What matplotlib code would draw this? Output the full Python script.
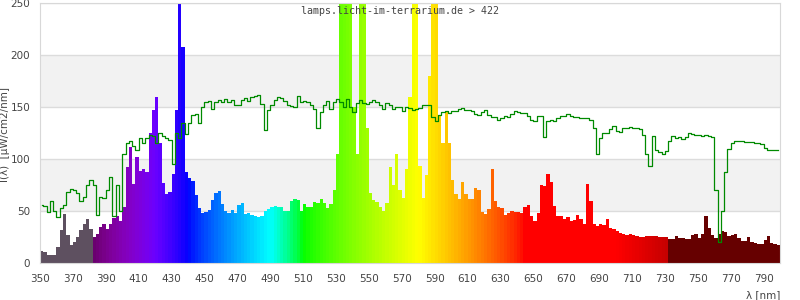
import numpy as np
import matplotlib
matplotlib.use('Agg')
import matplotlib.pyplot as plt

# wavelengths in nm, one value every 2 nm (bar covers [w, w+2))
wellenlaenge = np.arange(350, 800, 2)

# measured lamp spectrum, uW/cm2/nm
lampe = [
    12, 11, 8, 8, 8, 15, 32, 47, 27, 17,            # 350-368
    20, 25, 32, 38, 42, 33, 25, 28, 35, 38,         # 370-388
    33, 38, 43, 45, 40, 54, 92, 112, 76, 102,       # 390-408
    89, 90, 88, 125, 147, 160, 115, 77, 66, 68,     # 410-428
    86, 147, 260, 208, 88, 82, 79, 65, 53, 48,      # 430-448
    49, 51, 61, 67, 69, 57, 50, 48, 51, 48,         # 450-468
    56, 58, 47, 48, 46, 45, 44, 45, 50, 52,         # 470-488
    54, 55, 54, 54, 50, 50, 60, 62, 61, 50,         # 490-508
    57, 54, 54, 59, 58, 62, 58, 53, 57, 70,         # 510-528
    105, 260, 260, 260, 260, 150, 105, 260, 260, 130,  # 530-548
    67, 61, 59, 54, 50, 58, 92, 75, 105, 70,        # 550-568
    63, 90, 160, 260, 260, 93, 63, 85, 180, 260,    # 570-588
    260, 141, 115, 145, 115, 80, 66, 62, 78, 66,    # 590-608
    62, 62, 72, 70, 49, 47, 52, 90, 60, 54,         # 610-628
    53, 46, 48, 50, 49, 49, 48, 54, 56, 45,         # 630-648
    40, 48, 75, 74, 86, 78, 55, 45, 45, 42,         # 650-668
    44, 40, 41, 46, 42, 38, 76, 60, 38, 36,         # 670-688
    38, 37, 42, 34, 33, 31, 29, 28, 27, 28,         # 690-708
    27, 26, 25, 25, 26, 26, 26, 26, 25, 25,         # 710-728
    25, 23, 23, 26, 24, 24, 23, 23, 27, 28,         # 730-748
    24, 28, 45, 34, 27, 24, 28, 31, 30, 26,         # 750-768
    27, 28, 24, 21, 21, 25, 20, 19, 18, 18,         # 770-788
    22, 26, 19, 18, 17,                             # 790-798
]

# reference curve (green line)
referenz = [
    56, 55, 49, 60, 50, 44, 53, 56, 68, 71,
    70, 67, 60, 64, 75, 80, 75, 46, 64, 63,
    70, 83, 45, 75, 50, 105, 115, 117, 113, 109,
    120, 115, 120, 123, 122, 115, 125, 122, 120, 118,
    95, 125, 120, 135, 124, 135, 142, 143, 135, 150,
    155, 156, 148, 155, 157, 155, 158, 155, 157, 152,
    152, 157, 159, 156, 160, 161, 162, 153, 128, 147,
    152, 157, 160, 159, 156, 152, 151, 150, 161, 155,
    156, 155, 152, 148, 130, 145, 152, 156, 148, 155,
    158, 155, 150, 158, 150, 145, 154, 157, 154, 153,
    155, 157, 155, 152, 148, 154, 152, 148, 150, 150,
    146, 150, 149, 147, 148, 149, 152, 152, 152, 140,
    137, 142, 145, 146, 144, 146, 146, 148, 149, 147,
    147, 146, 143, 142, 145, 147, 142, 140, 140, 138,
    139, 141, 140, 143, 146, 145, 144, 144, 141, 138,
    137, 141, 141, 121, 137, 138, 137, 139, 141, 141,
    143, 141, 140, 140, 139, 139, 139, 138, 130, 105,
    120, 125, 125, 129, 132, 127, 126, 130, 130, 131,
    130, 130, 129, 123, 105, 93, 122, 109, 107, 105,
    108, 117, 122, 120, 121, 119, 121, 125, 124, 123,
    123, 122, 123, 122, 121, 70, 20, 50, 88, 110,
    115, 117, 117, 117, 116, 116, 116, 115, 115, 114,
    111, 109, 109, 109, 109,
]

achse_y = [0, 50, 100, 150, 200, 250]
achse_x = list(range(350, 800, 20))


def FarbeWellenlaenge(w):
    # rough wavelength -> rgb, like the site does it
    if w < 382:
        return '#5e5060'
    if w >= 733:
        return '#660000'
    if w < 440:
        r, g, b = -(w - 440) / 60.0, 0.0, 1.0
    elif w < 490:
        r, g, b = 0.0, (w - 440) / 50.0, 1.0
    elif w < 510:
        r, g, b = 0.0, 1.0, -(w - 510) / 20.0
    elif w < 580:
        r, g, b = (w - 510) / 70.0, 1.0, 0.0
    elif w < 645:
        r, g, b = 1.0, -(w - 645) / 65.0, 0.0
    else:
        r, g, b = 1.0, 0.0, 0.0

    f = 1.0
    if w < 420:
        f = 0.3 + 0.7 * (w - 380) / 40.0
    elif w > 700:
        f = 0.3 + 0.7 * (780 - w) / 80.0

    return tuple((c * f) ** 0.8 if c > 0 else 0.0 for c in (r, g, b))


fig = plt.figure(figsize=(8, 3), dpi=100)
ax = fig.add_axes([0.05, 0.123, 0.925, 0.867])

# grey bands in the background
for unten in (50, 150):
    ax.axhspan(unten, unten + 50, color='#f2f2f2', zorder=0, lw=0)
for y in achse_y:
    ax.axhline(y, color='#dcdcdc', lw=1, zorder=0.5)

farben = [FarbeWellenlaenge(w + 1) for w in wellenlaenge]
ax.bar(wellenlaenge, lampe, width=2, align='edge', color=farben, linewidth=0, zorder=2)
ax.plot(wellenlaenge + 1, referenz, color='#008a00', lw=0.9, drawstyle='steps-mid', zorder=3)

ax.set_xlim(350, 800)
ax.set_ylim(0, 250)
ax.set_xticks(achse_x)
ax.set_yticks(achse_y)
ax.tick_params(length=0, labelsize=7.5, labelcolor='#444444')
ax.tick_params(axis='x', pad=8)
ax.tick_params(axis='y', pad=7)
for s in ax.spines.values():
    s.set_color('#d8d8d8')
ax.set_facecolor('white')

fig.text(0.5, 0.963, 'lamps.licht-im-terrarium.de > 422', ha='center', va='center',
         family='DejaVu Sans Mono', fontsize=7.2, color='#444444')
fig.text(0.006, 0.55, 'I(λ)  [µW/cm2/nm]', rotation=90, ha='center', va='center',
         fontsize=7.5, color='#444444')
fig.text(0.975, 0.015, 'λ [nm]', ha='right', va='center', fontsize=7.5, color='#444444')

fig.savefig('out.png', dpi=100)
